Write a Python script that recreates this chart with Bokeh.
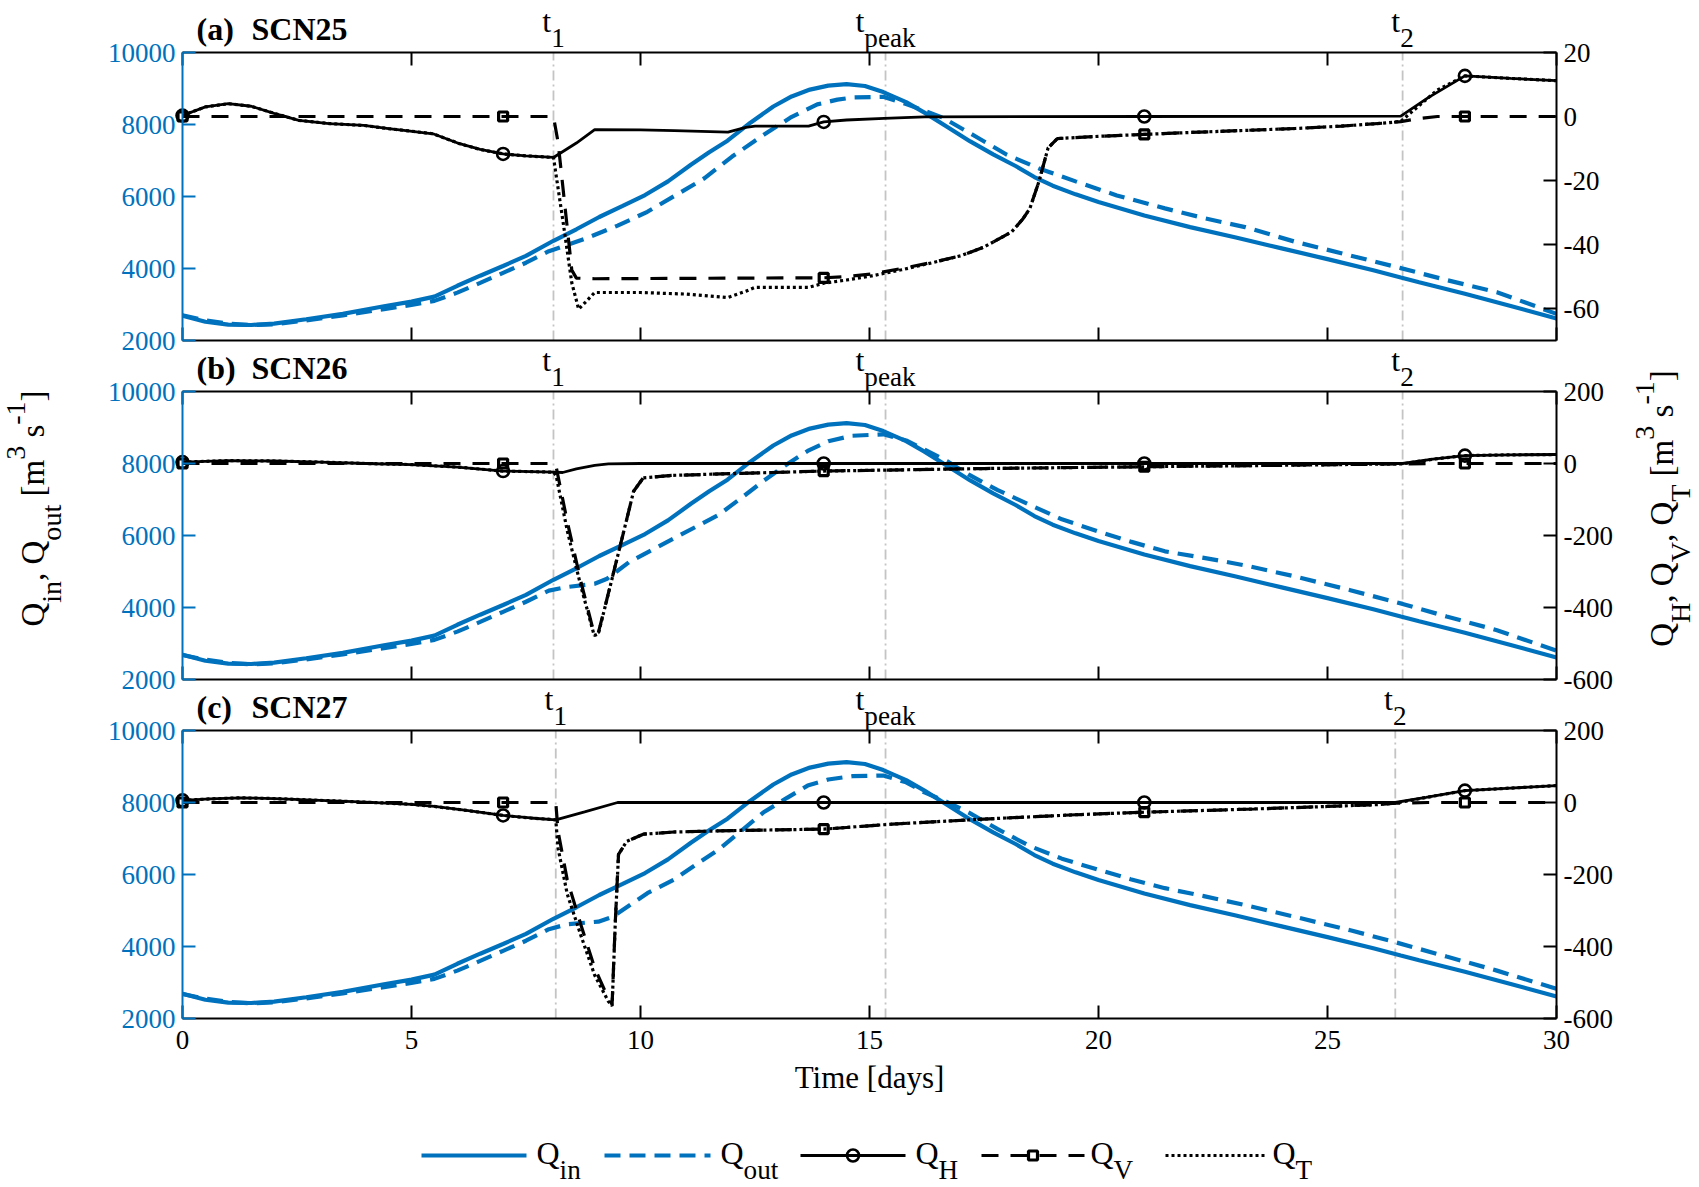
from math import pi

from bokeh.embed import file_html
from bokeh.models import (CustomJSTickFormatter, FixedTicker, Label, LinearAxis,
                          Range1d)
from bokeh.plotting import figure
from bokeh.resources import INLINE

# ------------------------------------------------------------------ data
# inflow hydrograph (identical in all three scenarios) [m3/s]
DAYS_IN = [0, 0.5, 1.0, 1.5, 2.0, 2.7, 3.5, 4.4, 5.0, 5.5, 6.0, 6.5, 7.0, 7.5,
           8.1, 8.6, 9.1, 9.6, 10.1, 10.6, 11.1, 11.5, 11.9, 12.4, 12.9, 13.3,
           13.7, 14.1, 14.5, 14.9, 15.3, 15.8, 16.2, 16.7, 17.2, 17.7, 18.2,
           18.6, 19.0, 19.5, 20.0, 21.0, 22.0, 23.0, 24.0, 25.0, 26.0, 26.6,
           27.0, 28.0, 29.0, 30.0]
Q_IN = [2690, 2520, 2440, 2430, 2470, 2590, 2740, 2950, 3080, 3220, 3520, 3800,
        4070, 4350, 4770, 5090, 5430, 5730, 6040, 6420, 6880, 7230, 7550, 8050,
        8500, 8780, 8970, 9080, 9120, 9070, 8900, 8620, 8330, 7930, 7530, 7170,
        6840, 6540, 6300, 6060, 5850, 5470, 5150, 4860, 4560, 4260, 3950, 3750,
        3620, 3300, 2960, 2610]

# outflow per scenario [m3/s]
DAYS_OUT_A = [0, 0.5, 1.0, 1.5, 2.0, 2.7, 3.5, 4.4, 5.0, 5.5, 6.0, 6.5, 7.0,
              7.5, 8.0, 8.8, 9.5, 10.15, 10.8, 11.4, 12.0, 12.7, 13.27, 13.86,
              14.3, 14.64, 15.3, 15.8, 16.6, 17.3, 18.0, 18.7, 19.5, 20.4,
              21.45, 22.3, 23.2, 24.3, 25.5, 26.6, 27.6, 28.7, 30.0]
Q_OUT_A = [2700, 2560, 2470, 2430, 2450, 2560, 2700, 2870, 2990, 3100, 3330,
           3600, 3880, 4160, 4480, 4830, 5190, 5575, 6060, 6510, 7110, 7720,
           8190, 8560, 8690, 8750, 8770, 8570, 8190, 7680, 7160, 6780, 6420,
           6030, 5670, 5400, 5150, 4740, 4360, 4010, 3680, 3340, 2740]

DAYS_OUT_B = [0, 0.5, 1.0, 1.5, 2.0, 2.7, 3.5, 4.4, 5.0, 5.5, 6.0, 6.5, 7.0,
              7.5, 8.0, 8.4, 9.0, 9.27, 9.76, 10.73, 11.7, 12.2, 12.68, 13.2,
              13.65, 14.1, 14.62, 15.3, 15.8, 16.2, 16.7, 17.17, 17.8, 18.5,
              19.2, 20.0, 20.7, 21.45, 22.3, 23.2, 24.3, 25.5, 26.64, 27.6,
              28.7, 30.0]
Q_OUT_B = [2680, 2550, 2460, 2420, 2450, 2560, 2700, 2870, 2990, 3100, 3330,
           3600, 3880, 4160, 4470, 4570, 4660, 4800, 5270, 5920, 6570, 7040,
           7510, 7980, 8350, 8620, 8770, 8810, 8640, 8390, 8060, 7690, 7260,
           6850, 6450, 6110, 5830, 5560, 5380, 5170, 4860, 4480, 4100, 3750,
           3370, 2800]

DAYS_OUT_C = [0, 0.5, 1.0, 1.5, 2.0, 2.7, 3.5, 4.4, 5.0, 5.5, 6.0, 6.5, 7.0,
              7.5, 8.0, 8.4, 9.08, 9.4, 10.15, 10.73, 11.7, 12.2, 12.68, 13.2,
              13.65, 14.1, 14.62, 15.3, 15.8, 16.2, 16.7, 17.17, 17.8, 18.5,
              19.2, 20.0, 20.7, 21.45, 22.3, 23.2, 24.3, 25.5, 26.48, 27.6,
              28.7, 30.0]
Q_OUT_C = [2680, 2550, 2460, 2420, 2450, 2560, 2700, 2870, 2990, 3100, 3330,
           3600, 3880, 4160, 4480, 4620, 4690, 4830, 5480, 5860, 6690, 7210,
           7720, 8130, 8470, 8640, 8730, 8750, 8560, 8280, 8010, 7720, 7260,
           6790, 6440, 6130, 5870, 5620, 5400, 5150, 4820, 4450, 4120, 3720,
           3330, 2825]

# exchange flows per scenario [m3/s]: Q_H, Q_V and their total Q_T
DAYS_H_A = [0, 0.5, 1.0, 1.5, 2.0, 2.54, 3.2, 3.96, 4.5, 4.88, 5.47, 6.05, 6.5,
            7.0, 7.5, 8.1, 8.6, 9.0, 10.0, 10.74, 11.91, 12.3, 12.5, 13.67,
            14.0, 14.5, 15.32, 16.2, 21.0, 26.6, 27.2, 28.0, 29.0, 30.0]
Q_H_A = [0.3, 3.0, 4.0, 3.2, 1.0, -1.2, -2.2, -2.8, -3.8, -4.4, -5.4, -8.5,
         -10.3, -11.7, -12.3, -12.8, -8.3, -4.1, -4.2, -4.4, -4.9, -3.4, -3.0,
         -3.0, -1.7, -1.1, -0.6, -0.1, 0.0, 0.1, 5.9, 12.7, 11.9, 11.2]
DAYS_V_A = [0, 7.0, 8.1, 8.2, 8.35, 8.5, 8.6, 9.0, 14.0, 14.5, 15.05, 15.7,
            16.4, 17.0, 17.5, 18.1, 18.35, 18.5, 18.7, 18.9, 19.1, 20.0, 21.0,
            22.0, 23.1, 24.3, 25.3, 26.3, 26.6, 27.0, 27.4, 28.0, 30.0]
Q_V_A = [0, 0, 0, -8, -28, -48, -50.5, -50.7, -50.4, -50.0, -49.2, -47.5,
         -45.5, -43.5, -40.8, -36.1, -32.0, -28.8, -20.3, -9.8, -6.9, -6.2,
         -5.6, -5.0, -4.4, -3.75, -3.0, -2.0, -1.6, -0.6, 0, 0, 0]
DAYS_T_A = [0, 0.5, 1.0, 1.5, 2.0, 2.54, 3.2, 3.96, 4.5, 4.88, 5.47, 6.05, 6.5,
            7.0, 7.5, 8.1, 8.3, 8.5, 8.65, 8.8, 9.0, 10.0, 11.0, 11.9, 12.3,
            12.5, 13.67, 14.0, 14.5, 15.05, 15.7, 16.4, 17.0, 17.5, 18.1,
            18.35, 18.5, 18.7, 18.9, 19.1, 20.0, 21.0, 22.0, 23.1, 24.3, 25.3,
            26.3, 26.6, 27.0, 27.4, 28.0, 29.0, 30.0]
Q_T_A = [0.3, 3.0, 4.0, 3.2, 1.0, -1.2, -2.2, -2.8, -3.8, -4.4, -5.4, -8.5,
         -10.3, -11.7, -12.3, -12.8, -32.0, -52.0, -60.2, -58.0, -55.0, -55.0,
         -55.5, -56.6, -54.6, -53.4, -53.4, -52.1, -51.1, -49.8, -47.9, -45.6,
         -43.5, -40.8, -36.1, -32.0, -28.8, -20.3, -9.8, -6.9, -6.2, -5.6,
         -5.0, -4.4, -3.75, -3.0, -2.0, -1.5, 3.4, 8.3, 12.7, 11.9, 11.2]

DAYS_H_B = [0, 1.0, 2.0, 3.0, 4.0, 5.0, 6.0, 7.0, 8.1, 8.3, 8.6, 9.0, 9.3,
            10.0, 14.0, 21.0, 26.64, 27.3, 28.0, 29.0, 30.0]
Q_H_B = [4, 8, 7, 4, 0, -3, -10, -21, -24, -25, -15, -5, -1, 0, 0, 0, 0, 12,
         22, 24, 25]
DAYS_V_B = [0, 7.0, 8.1, 8.16, 8.4, 8.7, 8.99, 9.08, 9.27, 9.56, 9.85, 10.06,
            10.7, 12.0, 14.0, 17.5, 21.0, 24.0, 26.64, 27.2, 28.0, 30.0]
Q_V_B = [0, 0, 0, -10, -161, -329, -474, -470, -375, -227, -77, -40, -33,
         -28, -21, -14, -9, -5, -1, 0, 0, 0]
DAYS_T_B = [0, 1.0, 2.0, 3.0, 4.0, 5.0, 6.0, 7.0, 8.1, 8.16, 8.4, 8.7, 8.99,
            9.08, 9.27, 9.56, 9.85, 10.06, 10.7, 12.0, 14.0, 17.5, 21.0, 24.0,
            26.64, 27.3, 28.0, 29.0, 30.0]
Q_T_B = [4, 8, 7, 4, 0, -3, -10, -21, -24, -35, -186, -342, -478, -473, -376,
         -227, -77, -40, -33, -28, -21, -14, -9, -5, -1, 12, 22, 24, 25]

DAYS_H_C = [0, 0.6, 1.25, 2.0, 3.0, 4.0, 5.0, 5.5, 6.2, 7.0, 7.6, 8.15, 8.78,
            9.5, 14.0, 21.0, 26.48, 27.15, 28.0, 29.0, 30.0]
Q_H_C = [6, 10, 13, 11, 6, 1, -5, -11, -22, -36, -43, -48, -26, 0, 0, 0, 0,
         14, 33, 40, 47]
DAYS_V_C = [0, 7.0, 8.15, 8.2, 8.4, 8.7, 9.0, 9.3, 9.38, 9.45, 9.52, 9.7,
            10.06, 10.73, 12.0, 14.0, 15.5, 17.5, 19.5, 21.0, 23.4, 25.0, 26.1,
            26.48, 27.2, 28.0, 30.0]
Q_V_C = [0, 0, 0, -80, -215, -340, -460, -545, -560, -330, -144, -108, -88,
         -82, -78, -74, -60, -46, -34, -27, -18, -11, -6, -2, 0, 0, 0]
DAYS_T_C = [0, 0.6, 1.25, 2.0, 3.0, 4.0, 5.0, 5.5, 6.2, 7.0, 7.6, 8.15, 8.2,
            8.4, 8.7, 9.0, 9.3, 9.38, 9.45, 9.52, 9.7, 10.06, 10.73, 12.0,
            14.0, 15.5, 17.5, 19.5, 21.0, 23.4, 25.0, 26.1, 26.48, 27.15, 28.0,
            29.0, 30.0]
Q_T_C = [6, 10, 13, 11, 6, 1, -5, -11, -22, -36, -43, -48, -127, -254, -370,
         -480, -553, -565, -333, -144, -108, -88, -82, -78, -74, -60, -46,
         -34, -27, -18, -11, -6, -2, 14, 33, 40, 47]

# event times [days] per scenario
T1 = [8.1, 8.1, 8.15]
T_PEAK = [15.35, 15.35, 15.35]
T2 = [26.64, 26.64, 26.48]

MARK_DAYS = [0, 7, 14, 21, 28]
PANEL_TAGS = ["(a)", "(b)", "(c)"]
PANEL_NAMES = ["SCN25", "SCN26", "SCN27"]
X_TICKS = [0, 5, 10, 15, 20, 25, 30]
X_LIMITS = (0, 30)
LEFT_TICKS = [2000, 4000, 6000, 8000, 10000]
LEFT_LIMITS = (2000, 10000)
RIGHT_TICKS = [[-60, -40, -20, 0, 20],
               [-600, -400, -200, 0, 200],
               [-600, -400, -200, 0, 200]]
RIGHT_LIMITS = [(-70, 20), (-600, 200), (-600, 200)]

SERIES = [
    dict(out=(DAYS_OUT_A, Q_OUT_A), h=(DAYS_H_A, Q_H_A), v=(DAYS_V_A, Q_V_A), t=(DAYS_T_A, Q_T_A)),
    dict(out=(DAYS_OUT_B, Q_OUT_B), h=(DAYS_H_B, Q_H_B), v=(DAYS_V_B, Q_V_B), t=(DAYS_T_B, Q_T_B)),
    dict(out=(DAYS_OUT_C, Q_OUT_C), h=(DAYS_H_C, Q_H_C), v=(DAYS_V_C, Q_V_C), t=(DAYS_T_C, Q_T_C)),
]

# ------------------------------------------------------------------ style
BLUE = "#0072BD"
INK = "#000000"
GUIDE = "#c4c4c4"
SERIF = "Liberation Serif"
TICK_PX = 27
LABEL_PX = 31          # "Time [days]"
ROT_LABEL_PX = 33      # rotated axis titles
LEGEND_PX = 32
GUIDE_PX = 32
TAG_PX = 32
SCRIPT = 0.85          # size of sub/superscripts relative to the base text
SUB_DROP = 0.5         # subscript baseline drop, in units of the base size
SUP_RISE = 0.58        # superscript baseline rise
BASE_FIX = 0.37        # lift applied so that the alphabetic baseline lands on y

STYLE_IN = dict(line_color=BLUE, line_width=4.2)
STYLE_OUT = dict(line_color=BLUE, line_width=4.2, line_dash="16 9")
STYLE_H = dict(line_color=INK, line_width=2.8)
STYLE_V = dict(line_color=INK, line_width=3.2, line_dash="17 12")
STYLE_T = dict(line_color=INK, line_width=3.2, line_dash="3 3")
MARK_H = dict(marker="circle", size=12, line_color=INK, line_width=2.6, fill_color=None)
MARK_V = dict(marker="square", size=9, line_color=INK, line_width=3.2, fill_color=None)

# page geometry (pixels); the default ranges of the canvas are page pixels
PAGE_W, PAGE_H = 1699, 1187
BOX_L, BOX_R, BOX_H = 182, 1556, 288
BOX_W = BOX_R - BOX_L
BOX_TOPS = [52, 391, 730]
MID_Y = 508            # centre of the rotated axis titles

# Times-metric advance widths (em) for laying out rich text pieces
ADV = {" ": 0.25, ",": 0.25, "[": 0.333, "]": 0.333, "-": 0.333, "(": 0.333,
       ")": 0.333, "Q": 0.722, "H": 0.722, "V": 0.722, "T": 0.611, "i": 0.278,
       "n": 0.5, "o": 0.5, "u": 0.5, "t": 0.278, "m": 0.778, "s": 0.389,
       "p": 0.5, "e": 0.444, "a": 0.444, "k": 0.5}


def text_w(s, size):
    return sum(ADV.get(c, 0.5) for c in s) * size


def put(p, x, y, text, size, angle=0.0, align="left", bold=False, color=INK):
    """Place a text with its alphabetic baseline at page pixel (x, y)."""
    lift = BASE_FIX * size
    if angle:
        x -= lift
    else:
        y -= lift
    p.add_layout(Label(x=x, y=y, text=text, angle=angle, text_font=SERIF,
                       text_font_size=f"{size:.1f}px",
                       text_font_style="bold" if bold else "normal",
                       text_color=color, text_align=align,
                       text_baseline="alphabetic"))


def rich(p, pieces, x0, y0, size, vertical=False, center=False, color=INK):
    """Lay out base/sub/superscript pieces as separate labels.
    x0, y0 are page pixels of the start point (or centre) on the baseline."""
    spans, adv = [], 0.0
    for txt, kind in pieces:
        s = size if kind == "n" else size * SCRIPT
        body = txt.lstrip(" ")
        lead = text_w(txt[:len(txt) - len(body)], s)
        spans.append((adv + lead, body, s, kind))
        adv += text_w(txt, s)
    shift0 = -adv / 2 if center else 0.0
    for off, body, s, kind in spans:
        d = {"n": 0.0, "sub": SUB_DROP * size, "sup": -SUP_RISE * size}[kind]
        if vertical:
            put(p, x0 + d, y0 - (off + shift0), body, s, angle=pi / 2, color=color)
        else:
            put(p, x0 + off + shift0, y0 + d, body, s, color=color)


def style_axis(ax, color, labels=True, standoff=7):
    ax.axis_line_color = color
    ax.axis_line_width = 2
    ax.major_tick_line_color = color
    ax.major_tick_line_width = 2
    ax.major_tick_in = 13
    ax.major_tick_out = 0
    ax.minor_tick_line_color = None
    ax.major_label_text_font = SERIF
    ax.major_label_text_color = color
    if labels:
        ax.major_label_text_font_size = f"{TICK_PX}px"
        ax.major_label_standoff = standoff
    else:
        ax.formatter = CustomJSTickFormatter(code="return ''")
        ax.major_label_text_font_size = "0px"
        ax.major_label_standoff = 0


def spread(lo, hi, box_top):
    """Range whose [lo, hi] fills the axes box, extended to the whole page."""
    bot = box_top + BOX_H
    k = (hi - lo) / BOX_H
    return Range1d(lo - (PAGE_H - bot) * k, hi + box_top * k)


p = figure(width=PAGE_W, height=PAGE_H, title=None,
           x_range=Range1d(0, PAGE_W), y_range=Range1d(PAGE_H, 0),
           output_backend="svg", toolbar_location=None,
           x_axis_location=None, y_axis_location=None, min_border=0)
p.grid.visible = False
p.outline_line_color = None

kx = (X_LIMITS[1] - X_LIMITS[0]) / BOX_W
p.extra_x_ranges = {"days": Range1d(X_LIMITS[0] - BOX_L * kx,
                                    X_LIMITS[1] + (PAGE_W - BOX_R) * kx)}
y_ranges = {}
for i, top in enumerate(BOX_TOPS):
    y_ranges[f"L{i}"] = spread(*LEFT_LIMITS, top)
    y_ranges[f"R{i}"] = spread(*RIGHT_LIMITS[i], top)
p.extra_y_ranges = y_ranges

for i, top in enumerate(BOX_TOPS):
    last = i == len(BOX_TOPS) - 1
    L, R = f"L{i}", f"R{i}"
    lo, hi = RIGHT_LIMITS[i]

    # event guides (beneath everything else)
    for t in (T1[i], T_PEAK[i], T2[i]):
        p.segment(x0=[t], y0=[LEFT_LIMITS[0]], x1=[t], y1=[LEFT_LIMITS[1]],
                  x_range_name="days", y_range_name=L, line_color=GUIDE,
                  line_width=1.8, line_dash="10 4 2 4")

    s = SERIES[i]
    p.line(DAYS_IN, Q_IN, x_range_name="days", y_range_name=L, **STYLE_IN)
    p.line(*s["out"], x_range_name="days", y_range_name=L, **STYLE_OUT)
    p.line(*s["h"], x_range_name="days", y_range_name=R, **STYLE_H)
    p.line(*s["v"], x_range_name="days", y_range_name=R, **STYLE_V)
    p.line(*s["t"], x_range_name="days", y_range_name=R, **STYLE_T)
    h_lookup = dict(zip(*s["h"]))
    v_lookup = dict(zip(*s["v"]))
    p.scatter(MARK_DAYS, [h_lookup[d] for d in MARK_DAYS],
              x_range_name="days", y_range_name=R, **MARK_H)
    p.scatter(MARK_DAYS, [v_lookup[d] for d in MARK_DAYS],
              x_range_name="days", y_range_name=R, **MARK_V)

    # axes box: blue left axis, black right/bottom/top
    left = LinearAxis(x_range_name="days", y_range_name=L, fixed_location=X_LIMITS[0],
                      bounds=LEFT_LIMITS, ticker=FixedTicker(ticks=LEFT_TICKS))
    style_axis(left, BLUE)
    p.add_layout(left, "left")
    right = LinearAxis(x_range_name="days", y_range_name=R, fixed_location=X_LIMITS[1],
                       bounds=(lo, hi), ticker=FixedTicker(ticks=RIGHT_TICKS[i]))
    style_axis(right, INK)
    right.formatter = CustomJSTickFormatter(code="return tick.toString()")
    p.add_layout(right, "right")
    below = LinearAxis(x_range_name="days", y_range_name=L, fixed_location=LEFT_LIMITS[0],
                       bounds=X_LIMITS, ticker=FixedTicker(ticks=X_TICKS))
    style_axis(below, INK, labels=last, standoff=12)
    p.add_layout(below, "below")
    above = LinearAxis(x_range_name="days", y_range_name=L, fixed_location=LEFT_LIMITS[1],
                       bounds=X_LIMITS, ticker=FixedTicker(ticks=X_TICKS))
    style_axis(above, INK, labels=False)
    p.add_layout(above, "above")

    # guide names above the box
    for t, sub in ((T1[i], "1"), (T_PEAK[i], "peak"), (T2[i], "2")):
        gx = BOX_L + (t - X_LIMITS[0]) / kx
        rich(p, [("t", "n"), (sub, "sub")], gx, top - 20, GUIDE_PX, center=True)

    # panel tag
    put(p, 196, top - 12, PANEL_TAGS[i], TAG_PX, bold=True)
    put(p, 251, top - 12, PANEL_NAMES[i], TAG_PX, bold=True)

# axis titles
rich(p, [("Q", "n"), ("in", "sub"), (", Q", "n"), ("out", "sub"),
         (" [m", "n"), ("3", "sup"), (" s", "n"), ("-1", "sup"), ("]", "n")],
     45, MID_Y, ROT_LABEL_PX, vertical=True, center=True)
rich(p, [("Q", "n"), ("H", "sub"), (", Q", "n"), ("V", "sub"),
         (", Q", "n"), ("T", "sub"), (" [m", "n"), ("3", "sup"),
         (" s", "n"), ("-1", "sup"), ("]", "n")],
     1674, MID_Y, ROT_LABEL_PX, vertical=True, center=True)
put(p, (BOX_L + BOX_R) / 2, 1088, "Time [days]", LABEL_PX, align="center")

# key strip along the bottom
KEY_Y = 1155
KEY_ENTRIES = [
    (421, 526, 536, STYLE_IN, None, "in"),
    (604, 710, 720, STYLE_OUT, None, "out"),
    (800, 905, 915, STYLE_H, MARK_H, "H"),
    (981, 1084, 1090, STYLE_V, MARK_V, "V"),
    (1165, 1265, 1272, STYLE_T, None, "T"),
]
for x0, x1, tx, lstyle, mstyle, sub in KEY_ENTRIES:
    p.line([x0, x1], [KEY_Y, KEY_Y], **lstyle)
    if mstyle is not None:
        p.scatter([(x0 + x1) / 2], [KEY_Y], **mstyle)
    rich(p, [("Q", "n"), (sub, "sub")], tx, KEY_Y + 9, LEGEND_PX)

open("out.html", "w").write(file_html(p, INLINE))
